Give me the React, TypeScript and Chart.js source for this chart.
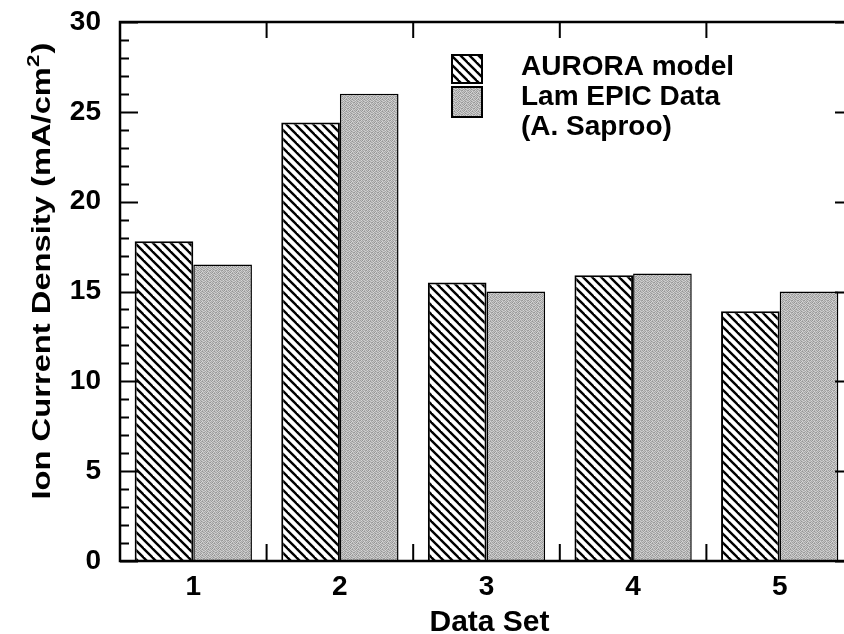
import React, { useEffect, useRef } from 'react';
import { Chart, registerables } from 'chart.js';

Chart.register(...registerables);

const categories = ['1', '2', '3', '4', '5'];
const auroraModel = [17.8, 24.4, 15.5, 15.9, 13.9];
const lamEpicData = [16.5, 26.0, 15.0, 16.0, 15.0];
const yMin = 0;
const yMax = 30;
const yMajorStep = 5;
const yMinorStep = 1;
const legendLabels = ['AURORA model', 'Lam EPIC Data', '(A. Saproo)'];
const xTitle = 'Data Set';
const yTitleMain = 'Ion Current Density (mA/cm';
const yTitleSup = '2';
const yTitleEnd = ')';

const FONT = "'Liberation Sans', Arial, Helvetica, sans-serif";

function makeHatch(): CanvasPattern | string {
  const c = document.createElement('canvas');
  const s = 9;
  c.width = s;
  c.height = s;
  const g = c.getContext('2d');
  if (!g) return '#fff';
  g.fillStyle = '#fff';
  g.fillRect(0, 0, s, s);
  g.strokeStyle = '#000';
  g.lineWidth = 2.4;
  for (const off of [-s, 0, s]) {
    g.beginPath();
    g.moveTo(off - 1, -1);
    g.lineTo(off + s + 1, s + 1);
    g.stroke();
  }
  return g.createPattern(c, 'repeat') || '#fff';
}

const ditherLevels = [
  [150, 210, 165, 200, 185, 160],
  [205, 170, 190, 155, 215, 175],
  [160, 195, 145, 215, 170, 200],
  [200, 155, 210, 175, 150, 190],
  [175, 215, 160, 190, 205, 165],
  [195, 165, 200, 150, 180, 210],
];

function makeGray(): CanvasPattern | string {
  const c = document.createElement('canvas');
  const n = ditherLevels.length;
  c.width = n;
  c.height = n;
  const g = c.getContext('2d');
  if (!g) return '#b8b8b8';
  for (let r = 0; r < n; r++) {
    for (let k = 0; k < n; k++) {
      const v = ditherLevels[r][k];
      g.fillStyle = `rgb(${v},${v},${v})`;
      g.fillRect(k, r, 1, 1);
    }
  }
  return g.createPattern(c, 'repeat') || '#b8b8b8';
}

export default function App() {
  const ref = useRef<HTMLCanvasElement | null>(null);

  useEffect(() => {
    const canvas = ref.current;
    if (!canvas) return;
    const hatch = makeHatch();
    const gray = makeGray();

    const framePlugin = {
      id: 'frame',
      afterDraw(chart: any) {
        const { ctx, chartArea } = chart;
        const { left, right, top, bottom } = chartArea;
        const x = chart.scales.x;
        const y = chart.scales.y;
        ctx.save();
        ctx.strokeStyle = '#000';
        ctx.lineWidth = 2.5;
        ctx.strokeRect(left, top, right - left, bottom - top);
        ctx.lineWidth = 2;
        for (let v = yMin; v <= yMax; v += yMinorStep) {
          const py = Math.round(y.getPixelForValue(v)) + 0.5;
          const len = v % yMajorStep === 0 ? 18 : 9;
          ctx.beginPath();
          ctx.moveTo(left, py);
          ctx.lineTo(left + len, py);
          ctx.moveTo(right, py);
          ctx.lineTo(right - len, py);
          ctx.stroke();
        }
        for (let i = 0; i < categories.length - 1; i++) {
          const px = (x.getPixelForValue(i) + x.getPixelForValue(i + 1)) / 2;
          ctx.beginPath();
          ctx.moveTo(px, top);
          ctx.lineTo(px, top + 16);
          ctx.moveTo(px, bottom);
          ctx.lineTo(px, bottom - 17);
          ctx.stroke();
        }
        ctx.fillStyle = '#000';
        // x axis title
        ctx.font = `bold 30px ${FONT}`;
        ctx.textAlign = 'center';
        ctx.textBaseline = 'alphabetic';
        ctx.fillText(xTitle, (left + right) / 2 + 3, 631);
        // y axis title (stretched along its length as in the source)
        const mainFont = `bold 25px ${FONT}`;
        const supFont = `bold 17px ${FONT}`;
        ctx.font = mainFont;
        const w1 = ctx.measureText(yTitleMain).width;
        const w3 = ctx.measureText(yTitleEnd).width;
        ctx.font = supFont;
        const w2 = ctx.measureText(yTitleSup).width;
        const total = w1 + w2 + w3 + 1;
        const stretch = 457 / total;
        ctx.save();
        ctx.translate(50, 271);
        ctx.rotate(-Math.PI / 2);
        ctx.scale(stretch, 1);
        ctx.textAlign = 'left';
        let cx = -total / 2;
        ctx.font = mainFont;
        ctx.fillText(yTitleMain, cx, 0);
        cx += w1;
        ctx.font = supFont;
        ctx.fillText(yTitleSup, cx, -11);
        cx += w2 + 1;
        ctx.font = mainFont;
        ctx.fillText(yTitleEnd, cx, 0);
        ctx.restore();
        // legend
        const lx = 452;
        ctx.lineWidth = 2;
        ctx.fillStyle = hatch;
        ctx.fillRect(lx, 55, 30, 28);
        ctx.strokeRect(lx, 55, 30, 28);
        ctx.fillStyle = gray;
        ctx.fillRect(lx, 87, 30, 30);
        ctx.strokeRect(lx, 87, 30, 30);
        ctx.fillStyle = '#000';
        ctx.textAlign = 'left';
        ctx.font = `bold 28px ${FONT}`;
        legendLabels.forEach((t, i) => {
          ctx.fillText(t, 521, 75 + i * 30);
        });
        ctx.restore();
      },
    };

    const chart = new Chart(canvas, {
      type: 'bar',
      data: {
        labels: categories,
        datasets: [
          {
            label: legendLabels[0],
            data: auroraModel,
            backgroundColor: hatch as any,
            borderColor: '#000',
            borderWidth: 2,
            categoryPercentage: 0.8,
            barPercentage: 1.0,
          },
          {
            label: legendLabels[1] + ' ' + legendLabels[2],
            data: lamEpicData,
            backgroundColor: gray as any,
            borderColor: '#000',
            borderWidth: 1.5,
            categoryPercentage: 0.8,
            barPercentage: 1.0,
          },
        ],
      },
      options: {
        responsive: false,
        animation: false,
        devicePixelRatio: 1,
        layout: { padding: { top: 22, right: 9, left: 0, bottom: 0 } },
        plugins: { legend: { display: false }, tooltip: { enabled: false } },
        scales: {
          x: {
            type: 'category',
            grid: { display: false, drawTicks: false },
            border: { display: false },
            ticks: {
              color: '#000',
              padding: 9,
              font: { family: FONT, size: 28, weight: 'bold' },
            },
            afterFit(scale: any) {
              scale.height = 73;
              scale.paddingLeft = 0;
              scale.paddingRight = 0;
            },
          },
          y: {
            min: yMin,
            max: yMax,
            grid: { display: false, drawTicks: false },
            border: { display: false },
            ticks: {
              stepSize: yMajorStep,
              color: '#000',
              padding: 19,
              font: { family: FONT, size: 28, weight: 'bold' },
            },
            afterFit(scale: any) {
              scale.width = 120;
              scale.paddingTop = 0;
              scale.paddingBottom = 0;
            },
          },
        },
      },
      plugins: [framePlugin],
    });
    return () => chart.destroy();
  }, []);

  return (
    <div
      style={{
        position: 'fixed',
        left: 0,
        top: 0,
        width: 844,
        height: 634,
        overflow: 'hidden',
        background: '#fff',
      }}
    >
      <canvas ref={ref} width={862} height={634} style={{ display: 'block', width: 862, height: 634 }} />
    </div>
  );
}
